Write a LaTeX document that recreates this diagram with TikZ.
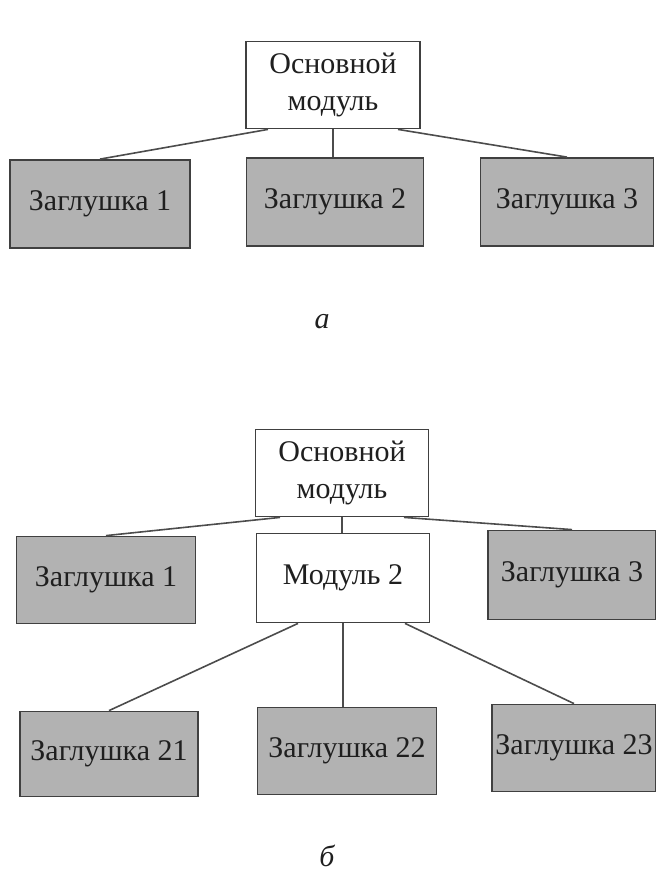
\documentclass[tikz,border=0pt]{standalone}
\usepackage{fontspec}
\setmainfont{Liberation Serif}
\begin{document}
\begin{tikzpicture}[x=1pt,y=-1pt,
  every node/.style={font=\fontsize{30}{37}\selectfont, text=black!88},
  plain/.style={draw=black!75, line width=1.8pt, fill=white, inner sep=0pt},
  stub/.style={draw=black!75, line width=1.8pt, fill=black!30, inner sep=0pt},
  link/.style={draw=black!70, line width=1.6pt}]
\useasboundingbox (0,0) rectangle (656,879);
% --- part a ---
\node[plain, minimum width=174pt, minimum height=87pt, align=center] (ta) at (333,85) {Основной\\модуль};
\node[stub, minimum width=180pt, minimum height=88pt] (z1a) at (100,204) {Заглушка 1};
\node[stub, minimum width=177pt, minimum height=88pt] (z2a) at (335,202) {Заглушка 2};
\node[stub, minimum width=173pt, minimum height=88pt] (z3a) at (567,202) {Заглушка 3};
\coordinate (ta1) at ([xshift=-65pt]ta.south);
\coordinate (ta3) at ([xshift=65pt]ta.south);
\draw[link] (ta1) -- (z1a.north);
\draw[link] (ta.south) -- (ta.south |- z2a.north);
\draw[link] (ta3) -- (z3a.north);
\node (la) at (322,322) {\itshape а};
% --- part b ---
\node[plain, minimum width=173pt, minimum height=87pt, align=center] (tb) at (342,473) {Основной\\модуль};
\node[stub, minimum width=179pt, minimum height=87pt] (z1b) at (106,580) {Заглушка 1};
\node[plain, minimum width=173pt, minimum height=89pt] (m2) at (343,578) {Модуль 2};
\node[stub, minimum width=168pt, minimum height=89pt] (z3b) at (572,575) {Заглушка 3};
\node[stub, minimum width=178pt, minimum height=85pt] (z21) at (109,754) {Заглушка 21};
\node[stub, minimum width=179pt, minimum height=87pt] (z22) at (347,751) {Заглушка 22};
\node[stub, minimum width=164pt, minimum height=87pt] (z23) at (574,748) {Заглушка 23};
\coordinate (tb1) at ([xshift=-62pt]tb.south);
\coordinate (tb3) at ([xshift=62pt]tb.south);
\draw[link] (tb1) -- (z1b.north);
\draw[link] (tb.south) -- (tb.south |- m2.north);
\draw[link] (tb3) -- (z3b.north);
\coordinate (m21) at ([xshift=-45pt]m2.south);
\coordinate (m23) at ([xshift=62pt]m2.south);
\draw[link] (m21) -- (z21.north);
\draw[link] (m2.south) -- (m2.south |- z22.north);
\draw[link] (m23) -- (z23.north);
\node (lb) at (327,856) {\itshape б};
\end{tikzpicture}
\end{document}
